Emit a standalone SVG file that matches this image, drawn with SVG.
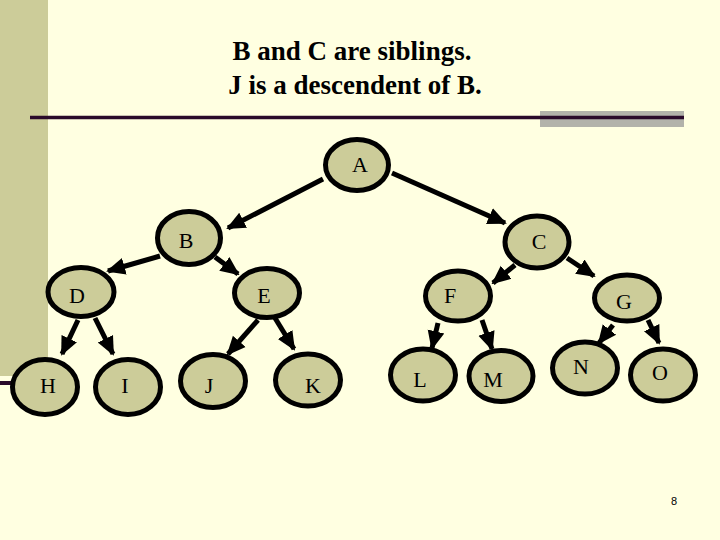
<svg xmlns="http://www.w3.org/2000/svg" width="720" height="540" viewBox="0 0 720 540">
<style>
.node ellipse{fill:#CCCC99;stroke:#000;stroke-width:5}
.node text{font-family:"Liberation Serif","Times New Roman",serif;font-size:22px;fill:#000;text-anchor:middle}
.title{font-family:"Liberation Serif","Times New Roman",serif;font-size:27px;font-weight:bold;fill:#000;text-anchor:middle}
#edges line{stroke:#000;stroke-width:5;marker-end:url(#ah)}
</style>
<defs>
<marker id="ah" markerUnits="userSpaceOnUse" markerWidth="19" markerHeight="19" viewBox="0 0 19 19" refX="17" refY="9.5" orient="auto">
<path d="M0,1 L19,9.5 L0,18 Z" fill="#000"/>
</marker>
</defs>
<rect width="720" height="540" fill="#FFFFE1"/>
<rect x="0" y="0" width="48" height="376" fill="#CCCC99"/>
<line x1="0" y1="383" x2="30" y2="383" stroke="#2A0A2A" stroke-width="4"/>
<rect x="540" y="111" width="144" height="16" fill="#B2B2AA"/>
<line x1="30" y1="117.5" x2="684" y2="117.5" stroke="#2A0A2A" stroke-width="3.5"/>
<text class="title" x="352" y="60">B and C are siblings.</text>
<text class="title" x="355" y="94">J is a descendent of B.</text>
<g id="edges">
<line x1="323" y1="179" x2="228" y2="228"/>
<line x1="392" y1="173" x2="505" y2="223"/>
<line x1="160" y1="256" x2="108" y2="271"/>
<line x1="215" y1="257" x2="238" y2="274"/>
<line x1="515" y1="265" x2="493" y2="283"/>
<line x1="567" y1="258" x2="594" y2="276"/>
<line x1="78" y1="320" x2="62" y2="354"/>
<line x1="95" y1="318" x2="113" y2="354"/>
<line x1="258" y1="320" x2="228" y2="354"/>
<line x1="275" y1="318" x2="294" y2="349"/>
<line x1="438" y1="323" x2="432" y2="348"/>
<line x1="482" y1="320" x2="492" y2="349"/>
<line x1="613" y1="325" x2="599" y2="343"/>
<line x1="648" y1="320" x2="659" y2="343"/>
</g>
<g id="A" class="node"><ellipse cx="357" cy="165" rx="31.5" ry="25.5"/><text x="360" y="172">A</text></g>
<g id="B" class="node"><ellipse cx="189" cy="238" rx="31.5" ry="26.5"/><text x="186" y="248">B</text></g>
<g id="C" class="node"><ellipse cx="537" cy="242" rx="32" ry="26"/><text x="539" y="249">C</text></g>
<g id="D" class="node"><ellipse cx="81" cy="292" rx="33" ry="24.5"/><text x="77" y="303">D</text></g>
<g id="E" class="node"><ellipse cx="267" cy="293" rx="32.5" ry="24.5"/><text x="264" y="303">E</text></g>
<g id="F" class="node"><ellipse cx="458" cy="296" rx="32.5" ry="25"/><text x="450" y="303">F</text></g>
<g id="G" class="node"><ellipse cx="627" cy="298" rx="32.5" ry="23"/><text x="624" y="309">G</text></g>
<g id="H" class="node"><ellipse cx="45" cy="387" rx="32.5" ry="27.5"/><text x="48" y="393">H</text></g>
<g id="I" class="node"><ellipse cx="128" cy="387" rx="32.5" ry="27.5"/><text x="125" y="393">I</text></g>
<g id="J" class="node"><ellipse cx="213" cy="381" rx="32.5" ry="26.5"/><text x="209" y="393">J</text></g>
<g id="K" class="node"><ellipse cx="308" cy="380" rx="32.5" ry="26"/><text x="313" y="393">K</text></g>
<g id="L" class="node"><ellipse cx="423" cy="375" rx="32.5" ry="26"/><text x="420" y="387">L</text></g>
<g id="M" class="node"><ellipse cx="501" cy="376" rx="32" ry="25.5"/><text x="493" y="387">M</text></g>
<g id="N" class="node"><ellipse cx="585" cy="368" rx="32.5" ry="26"/><text x="581" y="374">N</text></g>
<g id="O" class="node"><ellipse cx="663" cy="375" rx="32.5" ry="26"/><text x="660" y="380">O</text></g>
<text x="674" y="505" font-family="Liberation Sans, Arial, sans-serif" font-size="11" text-anchor="middle" fill="#000">8</text>
</svg>
